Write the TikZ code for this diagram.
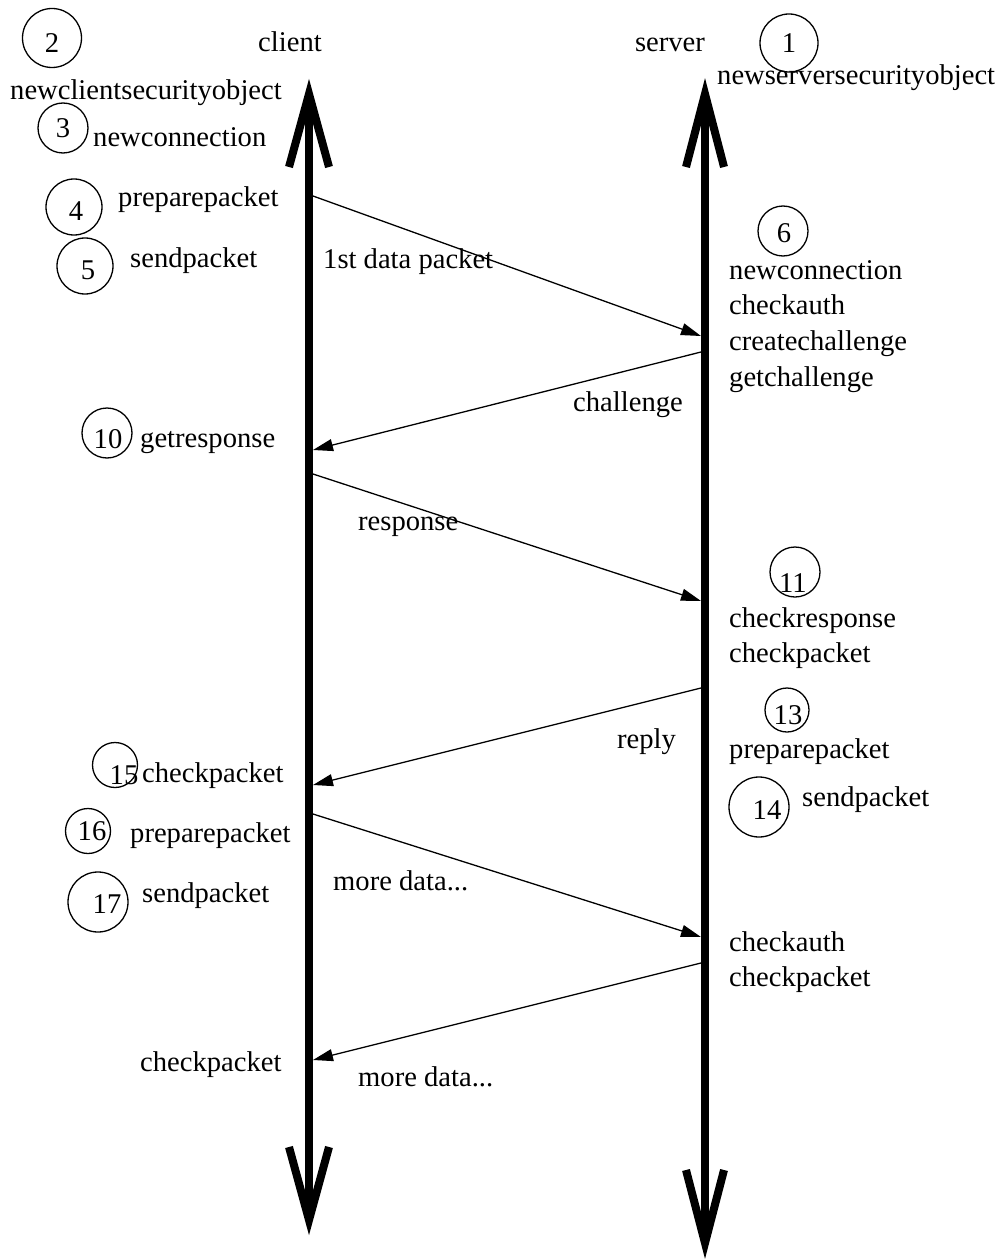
\documentclass[tikz,border=0pt]{standalone}
\usepackage{fontspec}
\setmainfont{Liberation Serif}
\usetikzlibrary{arrows.meta,calc}
\begin{document}
\begin{tikzpicture}[x=1pt,y=-1pt,
  lbl/.style={inner sep=0pt, anchor=base west, font=\fontsize{28.6}{34}\selectfont},
  head/.style={inner sep=0pt, anchor=base, font=\fontsize{28.6}{34}\selectfont},
  num/.style={inner sep=0pt, anchor=center, font=\fontsize{28.6}{34}\selectfont},
  ring/.style={draw, circle, line width=1.3pt, inner sep=0pt, minimum size=#1},
  axis/.style={line width=8pt},
  wing/.style={line width=8pt, line join=miter},
  msg/.style={line width=1.3pt, -{Triangle[length=20pt,width=12pt]}},
]
\useasboundingbox (0,0) rectangle (1001,1260);

% ---- time axes of the two parties ----
\coordinate (ctop) at (309,94);
\coordinate (cbot) at (309,1220);
\coordinate (stop) at (705,94);
\coordinate (sbot) at (705,1243);
\draw[axis] (ctop) -- (cbot);
\draw[axis] (stop) -- (sbot);
\draw[wing] (289,167) -- (ctop) -- (329,167);
\draw[wing] (289,1147) -- (cbot) -- (329,1147);
\draw[wing] (686,167) -- (stop) -- (724,167);
\draw[wing] (686,1170) -- (sbot) -- (724,1170);

\node[head] (client) at (290,52) {client};
\node[head] (server) at (670,52) {server};

% ---- numbered steps ----
\node[ring=58pt] (r1) at (789,43) {};  \node[num] (n1) at (789,43) {1};
\node[ring=59pt] (r2) at (52,38) {};   \node[num] (n2) at (52,43) {2};
\node[ring=50pt] (r3) at (63,128) {};  \node[num] (n3) at (63,128) {3};
\node[ring=56pt] (r4) at (74,207) {};  \node[num] (n4) at (76,211) {4};
\node[ring=56pt] (r5) at (85,266) {};  \node[num] (n5) at (88,270) {5};
\node[ring=50pt] (r6) at (783,231) {}; \node[num] (n6) at (784,233) {6};
\node[ring=50pt] (r10) at (107,433) {}; \node[num] (n10) at (108,439) {10};
\node[ring=50pt] (r11) at (795,572) {}; \node[num] (n11) at (793,583) {11};
\node[ring=44pt] (r13) at (787,710) {}; \node[num] (n13) at (788,715) {13};
\node[ring=60pt] (r14) at (759,807) {}; \node[num] (n14) at (767,810) {14};
\node[ring=45pt] (r15) at (115,765) {}; \node[num] (n15) at (124,775) {15};
\node[ring=45pt] (r16) at (88,831) {};  \node[num] (n16) at (92,831) {16};
\node[ring=60pt] (r17) at (98,902) {};  \node[num] (n17) at (107,904) {17};

% ---- operations, client side ----
\node[lbl] (t2) at (10,100) {newclientsecurityobject};
\node[lbl] (t3) at (93,147) {newconnection};
\node[lbl] (t4) at (118,206) {preparepacket};
\node[lbl] (t5) at (130,267) {sendpacket};
\node[lbl] (t10) at (140,447) {getresponse};
\node[lbl] (t15) at (142,782) {checkpacket};
\node[lbl] (t16) at (130,842) {preparepacket};
\node[lbl] (t17) at (142,902) {sendpacket};
\node[lbl] (tc) at (140,1071) {checkpacket};

% ---- operations, server side ----
\node[lbl] (t1) at (717,85) {newserversecurityobject};
\node[lbl] (t6a) at (729,279) {newconnection};
\node[lbl] (t6b) at (729,314) {checkauth};
\node[lbl] (t6c) at (729,350) {createchallenge};
\node[lbl] (t6d) at (729,386) {getchallenge};
\node[lbl] (t11a) at (729,627) {checkresponse};
\node[lbl] (t11b) at (729,662) {checkpacket};
\node[lbl] (t13) at (729,758) {preparepacket};
\node[lbl] (t14) at (802,806) {sendpacket};
\node[lbl] (tsa) at (729,951) {checkauth};
\node[lbl] (tsb) at (729,986) {checkpacket};

% ---- messages ----
\coordinate (c1) at (313,196);  \coordinate (s1) at (701,336);
\coordinate (s2) at (701,352);  \coordinate (c2) at (313,450);
\coordinate (c3) at (313,474);  \coordinate (s3) at (701,601);
\coordinate (s4) at (701,688);  \coordinate (c4) at (313,785);
\coordinate (c5) at (313,814);  \coordinate (s5) at (701,937);
\coordinate (s6) at (701,963);  \coordinate (c6) at (313,1060);
\draw[msg] (c1) -- (s1);
\draw[msg] (s2) -- (c2);
\draw[msg] (c3) -- (s3);
\draw[msg] (s4) -- (c4);
\draw[msg] (c5) -- (s5);
\draw[msg] (s6) -- (c6);

\node[lbl] (m1) at (323,268) {1st data packet};
\node[lbl] (m2) at (573,411) {challenge};
\node[lbl] (m3) at (358,530) {response};
\node[lbl] (m4) at (617,748) {reply};
\node[lbl] (m5) at (333,890) {more data...};
\node[lbl] (m6) at (358,1086) {more data...};
\end{tikzpicture}
\end{document}
